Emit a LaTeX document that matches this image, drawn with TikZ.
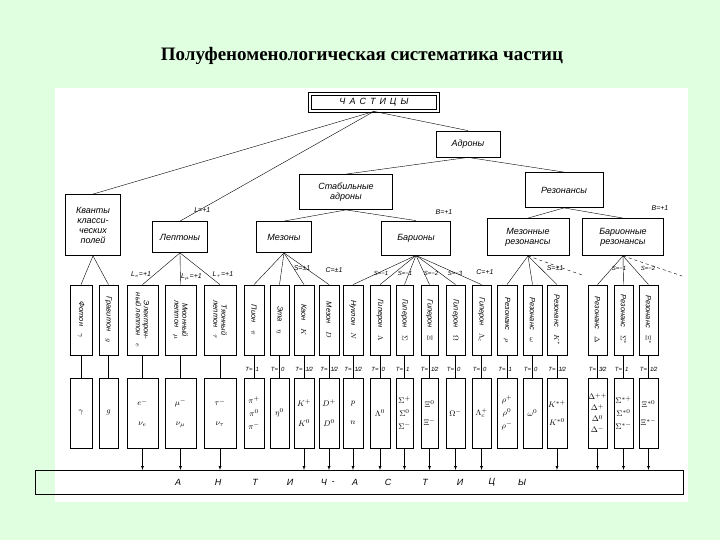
\documentclass[tikz,border=0pt]{standalone}
\usepackage{fontspec}
\setmainfont{Liberation Serif}
\newfontfamily\dg{Liberation Sans}
\begin{document}
\begin{tikzpicture}[x=1pt,y=-1pt,
 bx/.style={draw,thick,inner sep=1pt,font=\dg\itshape\fontsize{9}{10}\selectfont,align=center},
 ln/.style={thin},
 lb/.style={font=\dg\itshape\fontsize{7}{8}\selectfont,inner sep=0.5pt},
 tl/.style={font=\dg\itshape\fontsize{6}{7}\selectfont,inner sep=0.3pt}]
\fill[green!12!white] (0,0) rectangle (720,540);
\fill[white] (55,88) rectangle (688,502);
\node[font=\bfseries\fontsize{19}{22}\selectfont] (title) at (362,56) {Полуфеноменологическая систематика частиц};
% top tree
\node[bx,double,double distance=1.5pt,minimum width=128,minimum height=17] (P) at (374,102.5) {Ч\, А\, С\, Т\, И\, Ц\, Ы};
\node[bx,minimum width=64,minimum height=26] (A) at (468,144) {Адроны};
\node[bx,minimum width=93,minimum height=35] (SA) at (346,192) {Стабильные\\адроны};
\node[bx,minimum width=78,minimum height=35] (R) at (564,190) {Резонансы};
\node[bx,minimum width=55,minimum height=61] (Q) at (93,225) {Кванты\\класси-\\ческих\\полей};
\node[bx,minimum width=55,minimum height=31] (L) at (180,237) {Лептоны};
\node[bx,minimum width=55,minimum height=31] (M) at (284,237) {Мезоны};
\node[bx,minimum width=69,minimum height=34] (B) at (416,238) {Барионы};
\node[bx,minimum width=82,minimum height=37] (MR) at (528,237) {Мезонные\\резонансы};
\node[bx,minimum width=81,minimum height=37] (BR) at (623,237) {Барионные\\резонансы};
\draw[ln] (P.south) -- (Q.north);
\draw[ln] (P.south) -- (L.north) node[lb,pos=0.93,above right] {L=+1};
\draw[ln] (P.south) -- (A.north);
\draw[ln] (A.south) -- (SA.north);
\draw[ln] (A.south) -- (R.north);
\draw[ln] (SA.south) -- (M.north);
\draw[ln] (SA.south) -- (B.north);
\draw[ln] (R.south) -- (MR.north);
\draw[ln] (R.south) -- (BR.north);
\node[lb] (bp1) at (444,212) {B=+1};
\node[lb] (bp2) at (660,208) {B=+1};
% cells
\foreach \n/\xl/\xr/\top/\bot/\T/\arr in {
 c1/70/92/{Фотон\quad$\gamma$}/{$\gamma$}/{}/0,
 c2/99/118/{Гравитон\quad$g$}/{$g$}/{}/0,
 c3/127/158/{Электрон-\\ный лептон\quad$e$}/{$e^-$\\[10pt]$\nu_e$}/{}/1,
 c4/165/196/{Мюонный\\лептон\quad$\mu$}/{$\mu^-$\\[10pt]$\nu_\mu$}/{}/1,
 c5/204/236/{Тяонный\\лептон\quad$\tau$}/{$\tau^-$\\[10pt]$\nu_\tau$}/{}/1,
 c6/244/264/{Пион\quad$\pi$}/{$\pi^+$\\[3pt]$\pi^0$\\[3pt]$\pi^-$}/{1}/0,
 c7/270/289/{Эта\quad$\eta$}/{$\eta^0$}/{0}/0,
 c8/294/314/{Каон\quad$K$}/{$K^+$\\[10pt]$K^0$}/{1\kern-0.5pt/\kern-0.5pt2}/1,
 c9/319/339/{Мезон\quad$D$}/{$D^+$\\[10pt]$D^0$}/{1\kern-0.5pt/\kern-0.5pt2}/1,
 c10/343/363/{Нуклон\quad$N$}/{$p$\\[10pt]$n$}/{1\kern-0.5pt/\kern-0.5pt2}/1,
 c11/370/390/{Гиперон\quad$\Lambda$}/{$\Lambda^0$}/{0}/1,
 c12/396/413/{Гиперон\quad$\Sigma$}/{$\Sigma^+$\\[3pt]$\Sigma^0$\\[3pt]$\Sigma^-$}/{1}/1,
 c13/421/438/{Гиперон\quad$\Xi$}/{$\Xi^0$\\[8pt]$\Xi^-$}/{1\kern-0.5pt/\kern-0.5pt2}/1,
 c14/446/465/{Гиперон\quad$\Omega$}/{$\Omega^-$}/{0}/1,
 c15/472/491/{Гиперон\quad$\Lambda_c$}/{$\Lambda_c^+$}/{0}/1,
 c16/497/517/{Резонанс\quad$\rho$}/{$\rho^+$\\[3pt]$\rho^0$\\[3pt]$\rho^-$}/{1}/0,
 c17/523/542/{Резонанс\quad$\omega$}/{$\omega^0$}/{0}/0,
 c18/547/567/{Резонанс\quad$K^*$}/{$K^{*+}$\\[8pt]$K^{*0}$}/{1\kern-0.5pt/\kern-0.5pt2}/1,
 c19/588/607/{Резонанс\quad$\Delta$}/{$\Delta^{++}$\\[1pt]$\Delta^{+}$\\[1pt]$\Delta^{0}$\\[1pt]$\Delta^{-}$}/{3\kern-0.5pt/\kern-0.5pt2}/1,
 c20/614/633/{Резонанс\quad$\Sigma^*$}/{$\Sigma^{*+}$\\[3pt]$\Sigma^{*0}$\\[3pt]$\Sigma^{*-}$}/{1}/1,
 c21/639/658/{Резонанс\quad$\Xi^*$}/{$\Xi^{*0}$\\[8pt]$\Xi^{*-}$}/{1\kern-0.5pt/\kern-0.5pt2}/1}{
 \pgfmathsetmacro{\w}{\xr-\xl}
 \pgfmathsetmacro{\xc}{(\xl+\xr)/2}
 \node[bx,minimum width=\w,minimum height=70] (\n u) at (\xc,320) {};
 \node[font=\dg\itshape\fontsize{7.5}{8}\selectfont,rotate=-90,align=center,inner sep=0] (\n ut) at (\n u.center) {\top};
 \node[bx,minimum width=\w,minimum height=70,inner sep=0pt,font=\fontsize{8.5}{10}\selectfont] (\n d) at (\xc,413) {\bot};
 \draw[ln] (\n u.south) -- (\n d.north);
 \if\relax\detokenize\expandafter{\T}\relax\else
  \node[tl,anchor=east] (\n tl) at (\xc-1,369) {T=};
  \node[tl,anchor=west] (\n tr) at (\xc+1,369) {\T};
 \fi
 \ifnum\arr=1 \coordinate (\n a) at (\xc,470); \draw[-latex] (\n d.south) -- (\n a);\fi
}
% fans
\draw[ln] (Q.south) -- (c1u.north); \draw[ln] (Q.south) -- (c2u.north);
\draw[ln] (L.south) -- (c3u.north) node[lb,pos=0.7,left=2pt] {L$_e$=+1};
\draw[ln] (L.south) -- (c4u.north) node[lb,pos=0.75,right] {L$_\mu$=+1};
\draw[ln] (L.south) -- (c5u.north) node[lb,pos=0.8,above right] {L$_\tau$=+1};
\foreach \c in {c6,c7,c8,c9} \draw[ln] (M.south) -- (\c u.north);
\node[lb] (sm) at (302,268) {S=±1};
\node[lb] (cm) at (334,270) {C=±1};
\foreach \c in {c10,c11,c12,c13,c14,c15} \draw[ln] (B.south) -- (\c u.north);
\node[tl] (s1) at (381,273) {S=−1};
\node[tl] (s2) at (405,273) {S=−1};
\node[tl] (s3) at (431,273) {S=−2};
\node[tl] (s4) at (455,273) {S=−3};
\node[lb] (cb) at (485,272) {C=+1};
\foreach \c in {c16,c17,c18} \draw[ln] (MR.south) -- (\c u.north);
\coordinate (mre) at (582,275);
\draw[ln,dashed] (MR.south) -- (mre);
\node[lb] (smr) at (555,268) {S=±1};
\foreach \c in {c19,c20,c21} \draw[ln] (BR.south) -- (\c u.north);
\coordinate (bre) at (682,276);
\draw[ln,dashed] (BR.south) -- (bre);
\node[tl] (sb1) at (619,268) {S=−1};
\node[tl] (sb2) at (648,268) {S=−2};
% antiparticles bar
\draw[thick] (35,470) rectangle (683,494);
\foreach \ch/\x [count=\i] in {А/178,Н/218,Т/255,И/290,Ч/324,А/355,С/388,Т/425,И/460,Ц/492,Ы/522}
 \node[font=\dg\itshape\fontsize{9}{10}\selectfont] (ap\i) at (\x,482) {\ch};
\node[font=\dg\itshape\fontsize{9}{10}\selectfont] (dot) at (333,483) {-};
\end{tikzpicture}
\end{document}
